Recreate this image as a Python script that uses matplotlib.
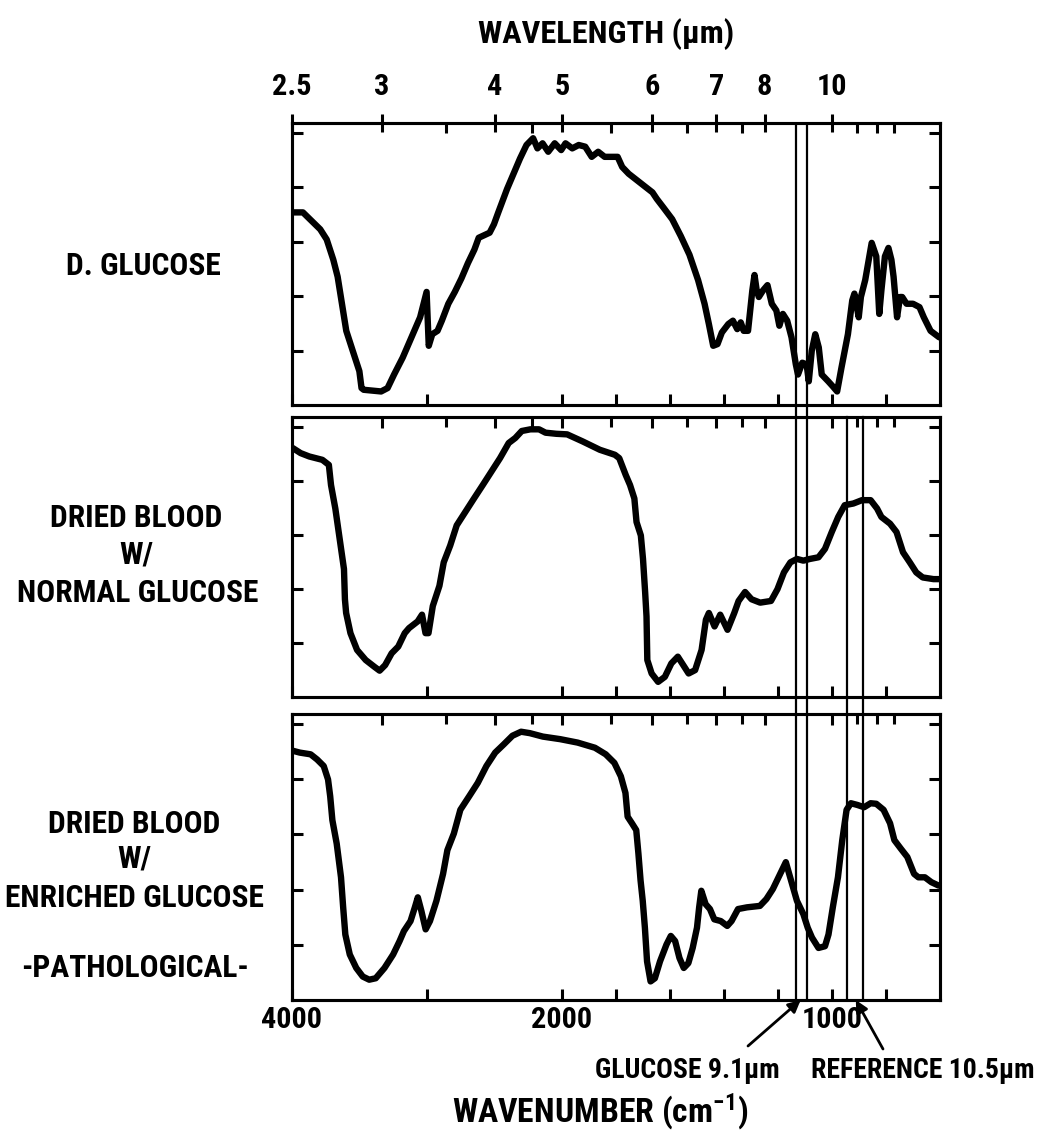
import os
import numpy as np
import matplotlib
matplotlib.use('Agg')
import matplotlib.pyplot as plt
from matplotlib import font_manager as fm

# spectra: wavenumber (cm-1) and transmission (% of panel height)
glucose_wn = [4000, 3919, 3791, 3743, 3694, 3662, 3630, 3598, 3550, 3501,
              3485, 3469, 3340, 3292, 3244, 3180, 3115, 3051, 3003, 2987,
              2961, 2922, 2890, 2842, 2794, 2745, 2697, 2649, 2617, 2536,
              2504, 2472, 2407, 2359, 2311, 2263, 2214, 2182, 2144, 2102,
              2054, 2006, 1987, 1962, 1938, 1914, 1890, 1866, 1842, 1818,
              1794, 1777, 1753, 1721, 1689, 1665, 1649, 1625, 1592, 1560,
              1528, 1496, 1472, 1456, 1440, 1424, 1408, 1384, 1367, 1351,
              1338, 1327, 1311, 1295, 1287, 1279, 1271, 1255, 1239, 1223,
              1206, 1195, 1182, 1166, 1150, 1134, 1126, 1110, 1094, 1086,
              1075, 1062, 1049, 1038, 1014, 997, 981, 965, 941, 925,
              917, 901, 893, 877, 853, 836, 825, 817, 804, 791,
              780, 772, 759, 748, 740, 724, 700, 676, 660, 635,
              603]
glucose_tr = [68.3, 68.3, 62.3, 58.7, 51.5, 45.5, 35.9, 26.3, 19.2, 12.0,
              6.0, 5.4, 4.8, 6.0, 10.8, 16.8, 24.0, 31.1, 40.1, 21.0,
              25.1, 26.3, 29.9, 35.9, 40.1, 44.9, 50.3, 55.1, 59.3, 61.1,
              64.1, 68.3, 76.6, 82.0, 87.4, 92.2, 94.6, 91.0, 92.8, 89.8,
              92.8, 90.4, 92.8, 91.0, 92.2, 91.6, 88.0, 89.8, 88.0, 88.0,
              88.0, 84.4, 82.0, 79.6, 77.2, 75.4, 73.1, 70.1, 65.9, 59.9,
              53.3, 44.3, 35.9, 28.7, 21.0, 21.6, 25.7, 28.7, 29.9, 26.9,
              29.3, 26.3, 26.3, 40.7, 46.1, 40.7, 38.3, 40.7, 42.5, 35.9,
              33.5, 28.1, 32.3, 29.9, 24.0, 14.4, 10.8, 15.0, 14.4, 8.4,
              19.2, 25.1, 20.4, 10.8, 8.4, 6.6, 4.8, 13.2, 25.1, 37.1,
              39.5, 31.1, 38.3, 44.3, 57.5, 52.7, 32.3, 40.7, 52.7, 55.7,
              51.5, 45.5, 31.1, 38.3, 38.3, 35.9, 35.9, 34.7, 31.1, 26.3,
              24.0]

normal_wn = [3994, 3936, 3872, 3775, 3727, 3711, 3679, 3647, 3615, 3608,
             3599, 3567, 3518, 3454, 3390, 3351, 3310, 3262, 3213, 3165,
             3133, 3069, 3037, 3011, 2989, 2957, 2908, 2876, 2828, 2780,
             2716, 2652, 2587, 2523, 2459, 2395, 2346, 2298, 2234, 2170,
             2122, 2042, 1981, 1924, 1860, 1804, 1788, 1764, 1748, 1732,
             1724, 1708, 1700, 1692, 1687, 1684, 1668, 1644, 1619, 1595,
             1571, 1547, 1531, 1507, 1483, 1467, 1456, 1435, 1414, 1387,
             1362, 1346, 1322, 1298, 1266, 1226, 1202, 1178, 1154, 1130,
             1106, 1082, 1050, 1026, 1001, 977, 953, 921, 889, 857,
             833, 817, 785, 761, 737, 712, 696, 688, 664, 624,
             605]
normal_tr = [88.9, 87.1, 85.9, 84.7, 82.9, 75.7, 67.3, 56.5, 45.7, 34.9,
             30.0, 22.8, 16.8, 13.2, 10.8, 9.4, 11.4, 15.6, 18.0, 22.8,
             24.6, 27.0, 29.4, 22.8, 22.8, 32.5, 39.7, 48.1, 54.1, 61.3,
             66.1, 70.9, 75.7, 80.5, 85.3, 90.7, 92.5, 95.0, 95.6, 95.6,
             94.4, 94.0, 93.8, 91.3, 88.3, 86.5, 85.3, 79.3, 75.7, 70.9,
             62.5, 57.7, 49.3, 37.3, 28.8, 13.2, 8.4, 5.4, 7.2, 12.0,
             14.4, 10.8, 8.4, 9.6, 16.8, 27.6, 30.0, 25.2, 29.4, 24.0,
             30.0, 34.3, 37.5, 34.9, 33.7, 34.3, 38.5, 44.5, 48.1, 49.3,
             48.7, 49.3, 49.9, 52.9, 58.9, 64.3, 68.5, 69.1, 70.3, 70.3,
             67.3, 64.3, 61.9, 58.9, 51.7, 48.1, 45.7, 44.5, 42.7, 42.1,
             42.1]

enriched_wn = [3990, 3942, 3862, 3814, 3765, 3733, 3717, 3701, 3669, 3637,
               3621, 3605, 3572, 3524, 3476, 3428, 3380, 3315, 3251, 3203,
               3171, 3122, 3090, 3068, 3042, 3010, 2978, 2930, 2881, 2849,
               2801, 2753, 2688, 2624, 2560, 2495, 2431, 2367, 2303, 2238,
               2142, 2013, 1942, 1878, 1838, 1806, 1782, 1765, 1757, 1741,
               1725, 1717, 1709, 1701, 1693, 1685, 1672, 1656, 1637, 1613,
               1597, 1581, 1565, 1549, 1532, 1516, 1500, 1492, 1484, 1468,
               1452, 1436, 1412, 1388, 1372, 1348, 1315, 1267, 1243, 1219,
               1195, 1171, 1155, 1130, 1106, 1090, 1074, 1050, 1026, 1013,
               997, 978, 962, 946, 930, 906, 881, 857, 836, 809,
               785, 769, 745, 721, 696, 680, 656, 632, 605]
enriched_tr = [87.1, 86.5, 85.9, 84.1, 81.8, 77.1, 71.2, 62.9, 54.7, 42.9,
               32.4, 22.9, 15.9, 11.2, 8.2, 7.1, 7.6, 11.2, 15.9, 20.6,
               24.1, 27.6, 32.4, 35.9, 31.2, 24.7, 27.6, 34.7, 44.1, 52.4,
               58.2, 66.5, 71.2, 75.9, 81.8, 86.5, 89.4, 92.4, 93.8, 93.3,
               92.1, 91.2, 90.0, 88.2, 85.9, 82.9, 78.2, 72.4, 64.1, 61.8,
               59.4, 51.2, 41.8, 34.7, 25.3, 13.5, 6.5, 7.6, 13.5, 19.4,
               22.4, 20.6, 14.7, 11.2, 12.9, 18.2, 25.3, 32.4, 38.2, 33.5,
               31.8, 28.2, 27.6, 25.9, 27.6, 31.8, 32.4, 32.9, 35.3, 38.8,
               43.5, 48.2, 42.9, 34.7, 30.0, 25.3, 21.8, 18.2, 18.8, 22.9,
               32.4, 42.9, 55.9, 66.5, 68.8, 68.2, 67.4, 68.8, 68.6, 66.5,
               61.8, 55.9, 52.9, 50.0, 44.1, 42.9, 42.9, 41.2, 40.0]

wn_ticks = [4000, 3000, 2000, 1800, 1600, 1400, 1200, 1000, 800]
wn_labels = ['4000', '', '2000', '', '', '', '', '1000', '']
wl_major = [2.5, 3, 4, 5, 6, 7, 8, 10]
wl_minor = [3.5, 4.5, 5.5, 6.5, 7.5, 11, 12, 13]
glucose_lines = [1132, 1091]
reference_lines = [943, 886]


# narrow bold lettering: take the first condensed bold face that is installed
def pick_font():
    prefs = ['notosansextracondensedbold', 'liberationsansnarrowbold',
             'robotocondensedbold', 'notosanscondensedbold', 'opensanscondensedbold',
             'opensanscondbold', 'notosanssemicondensedbold', 'dejavusanscondensedbold']
    files = {}
    for f in fm.fontManager.ttflist:
        key = os.path.basename(f.fname).lower().rsplit('.', 1)[0]
        for ch in '-_ ':
            key = key.replace(ch, '')
        files[key] = f.fname
    for p in prefs:
        if p in files:
            return files[p]
    return fm.findfont(fm.FontProperties(family='DejaVu Sans', weight='bold'))


font_file = pick_font()
plt.rcParams['mathtext.default'] = 'regular'


def fp(size=20):
    return fm.FontProperties(fname=font_file, size=size)


# wavenumber axis: scale doubles below 2000 cm-1
def fwd(w):
    w = np.asarray(w, dtype=float)
    return np.where(w >= 2000, w, 2 * w - 2000)


def inv(v):
    v = np.asarray(v, dtype=float)
    return np.where(v >= 2000, v, (v + 2000) / 2)


W, H = 1041, 1130
fig = plt.figure(figsize=(W / 100, H / 100), dpi=100)

left, width = 292 / W, (940 - 292) / W
boxes = [(123, 405), (417, 697), (714, 1000)]  # top, bottom in pixels

lw_spine = 2.2
axes, twins = [], []
for i, (top, bot) in enumerate(boxes):
    ax = fig.add_axes([left, 1 - bot / H, width, (bot - top) / H])
    ax.set_xscale('function', functions=(fwd, inv))
    ax.set_xlim(4000, 600)
    ax.set_ylim(0, 100)
    for s in ax.spines.values():
        s.set_linewidth(lw_spine)
    ax.set_yticks([19.3, 38.6, 57.9, 77.2, 96.5])
    ax.tick_params(axis='y', left=True, right=True, direction='in', length=8,
                   width=lw_spine, labelleft=False)
    ax.set_xticks(wn_ticks)
    ax.set_xticklabels(wn_labels)
    ax.xaxis.set_minor_locator(plt.NullLocator())
    ax.tick_params(axis='x', direction='in', length=8, width=lw_spine,
                   pad=4, labelbottom=(i == 2))

    tw = ax.twiny()
    tw.set_xscale('function', functions=(fwd, inv))
    tw.set_xlim(4000, 600)
    tw.set_xticks([1e4 / v for v in wl_major])
    tw.set_xticks([1e4 / v for v in wl_minor], minor=True)
    tw.set_xticklabels([('%g' % v) for v in wl_major])
    for s in tw.spines.values():
        s.set_linewidth(lw_spine)
    if i == 0:
        tw.tick_params(axis='x', which='major', direction='inout', length=13,
                       width=lw_spine, pad=9)
    else:
        tw.tick_params(axis='x', which='major', direction='in', length=8,
                       width=lw_spine, labeltop=False)
    tw.tick_params(axis='x', which='minor', direction='in', length=7,
                   width=lw_spine)
    axes.append(ax)
    twins.append(tw)

series = [(glucose_wn, glucose_tr), (normal_wn, normal_tr),
          (enriched_wn, enriched_tr)]
for ax, (wn, tr) in zip(axes, series):
    ax.plot(wn, tr, color='black', lw=4.6, solid_joinstyle='round',
            solid_capstyle='round')

# vertical marker lines across the panels
top1 = 1 - boxes[0][0] / H
top2 = 1 - boxes[1][0] / H
bot3 = 1 - boxes[2][1] / H
ov = fig.add_axes([left, bot3, width, top1 - bot3])
ov.set_xscale('function', functions=(fwd, inv))
ov.set_xlim(4000, 600)
ov.set_ylim(0, 1)
ov.axis('off')
for x in glucose_lines:
    ov.axvline(x, 0, 1, color='black', lw=1.6)
for x in reference_lines:
    ov.axvline(x, 0, (top2 - bot3) / (top1 - bot3), color='black', lw=1.6)

arrow = dict(arrowstyle='-|>', color='black', lw=2, mutation_scale=18,
             shrinkA=0, shrinkB=0)
axes[2].annotate('', xy=(1116, 0), xycoords='data', xytext=(748 / W, 1 - 1046 / H),
                 textcoords='figure fraction', arrowprops=arrow, annotation_clip=False)
axes[2].annotate('', xy=(912, 0), xycoords='data', xytext=(883 / W, 1 - 1049 / H),
                 textcoords='figure fraction', arrowprops=arrow, annotation_clip=False)


def put(s, x, y):
    return fig.text(x / W, 1 - y / H, s, ha='center', va='baseline', fontproperties=fp())


side = [put('D. GLUCOSE', 143, 275),
        put('DRIED BLOOD', 136, 527), put('W/', 136, 563), put('NORMAL GLUCOSE', 138, 602),
        put('DRIED BLOOD', 134, 833), put('W/', 134, 867), put('ENRICHED GLUCOSE', 134, 907),
        put('-PATHOLOGICAL-', 135, 977)]
title_top = put('WAVELENGTH (µm)', 606, 43)
title_bot = put('WAVENUMBER (cm$^{-1}$)', 600, 1122)
lab_glu = put('GLUCOSE 9.1µm', 687, 1078)
lab_ref = put('REFERENCE 10.5µm', 923, 1078)

fig.canvas.draw()
rend = fig.canvas.get_renderer()


def fit_size(t, target):
    return t.get_fontsize() * target / t.get_window_extent(rend).width


def cap_size(px):
    # font size (pt) giving a cap height of px pixels
    return px / 0.71 * 72 / 100


s_side = min(1.1 * fit_size(side[3], 220), cap_size(26))
for t in side:
    t.set_fontsize(s_side)
title_top.set_fontsize(min(1.1 * fit_size(title_top, 238), cap_size(23)))
title_bot.set_fontsize(min(1.1 * fit_size(title_bot, 270), cap_size(25)))
s_lab = min(fit_size(lab_glu, 185), fit_size(lab_ref, 223), cap_size(25))
lab_glu.set_fontsize(s_lab)
lab_ref.set_fontsize(s_lab)

# tick labels in the same lettering
ref_tick = axes[2].xaxis.get_major_ticks()[2].label1
ref_tick.set_fontproperties(fp())
s_tick = min(1.2 * fit_size(ref_tick, 51), cap_size(27))
for a in axes + twins:
    for tk in a.xaxis.get_major_ticks():
        tk.label1.set_fontproperties(fp(s_tick))
        tk.label2.set_fontproperties(fp(s_tick))

fig.savefig('out.png', dpi=100, facecolor='white')
